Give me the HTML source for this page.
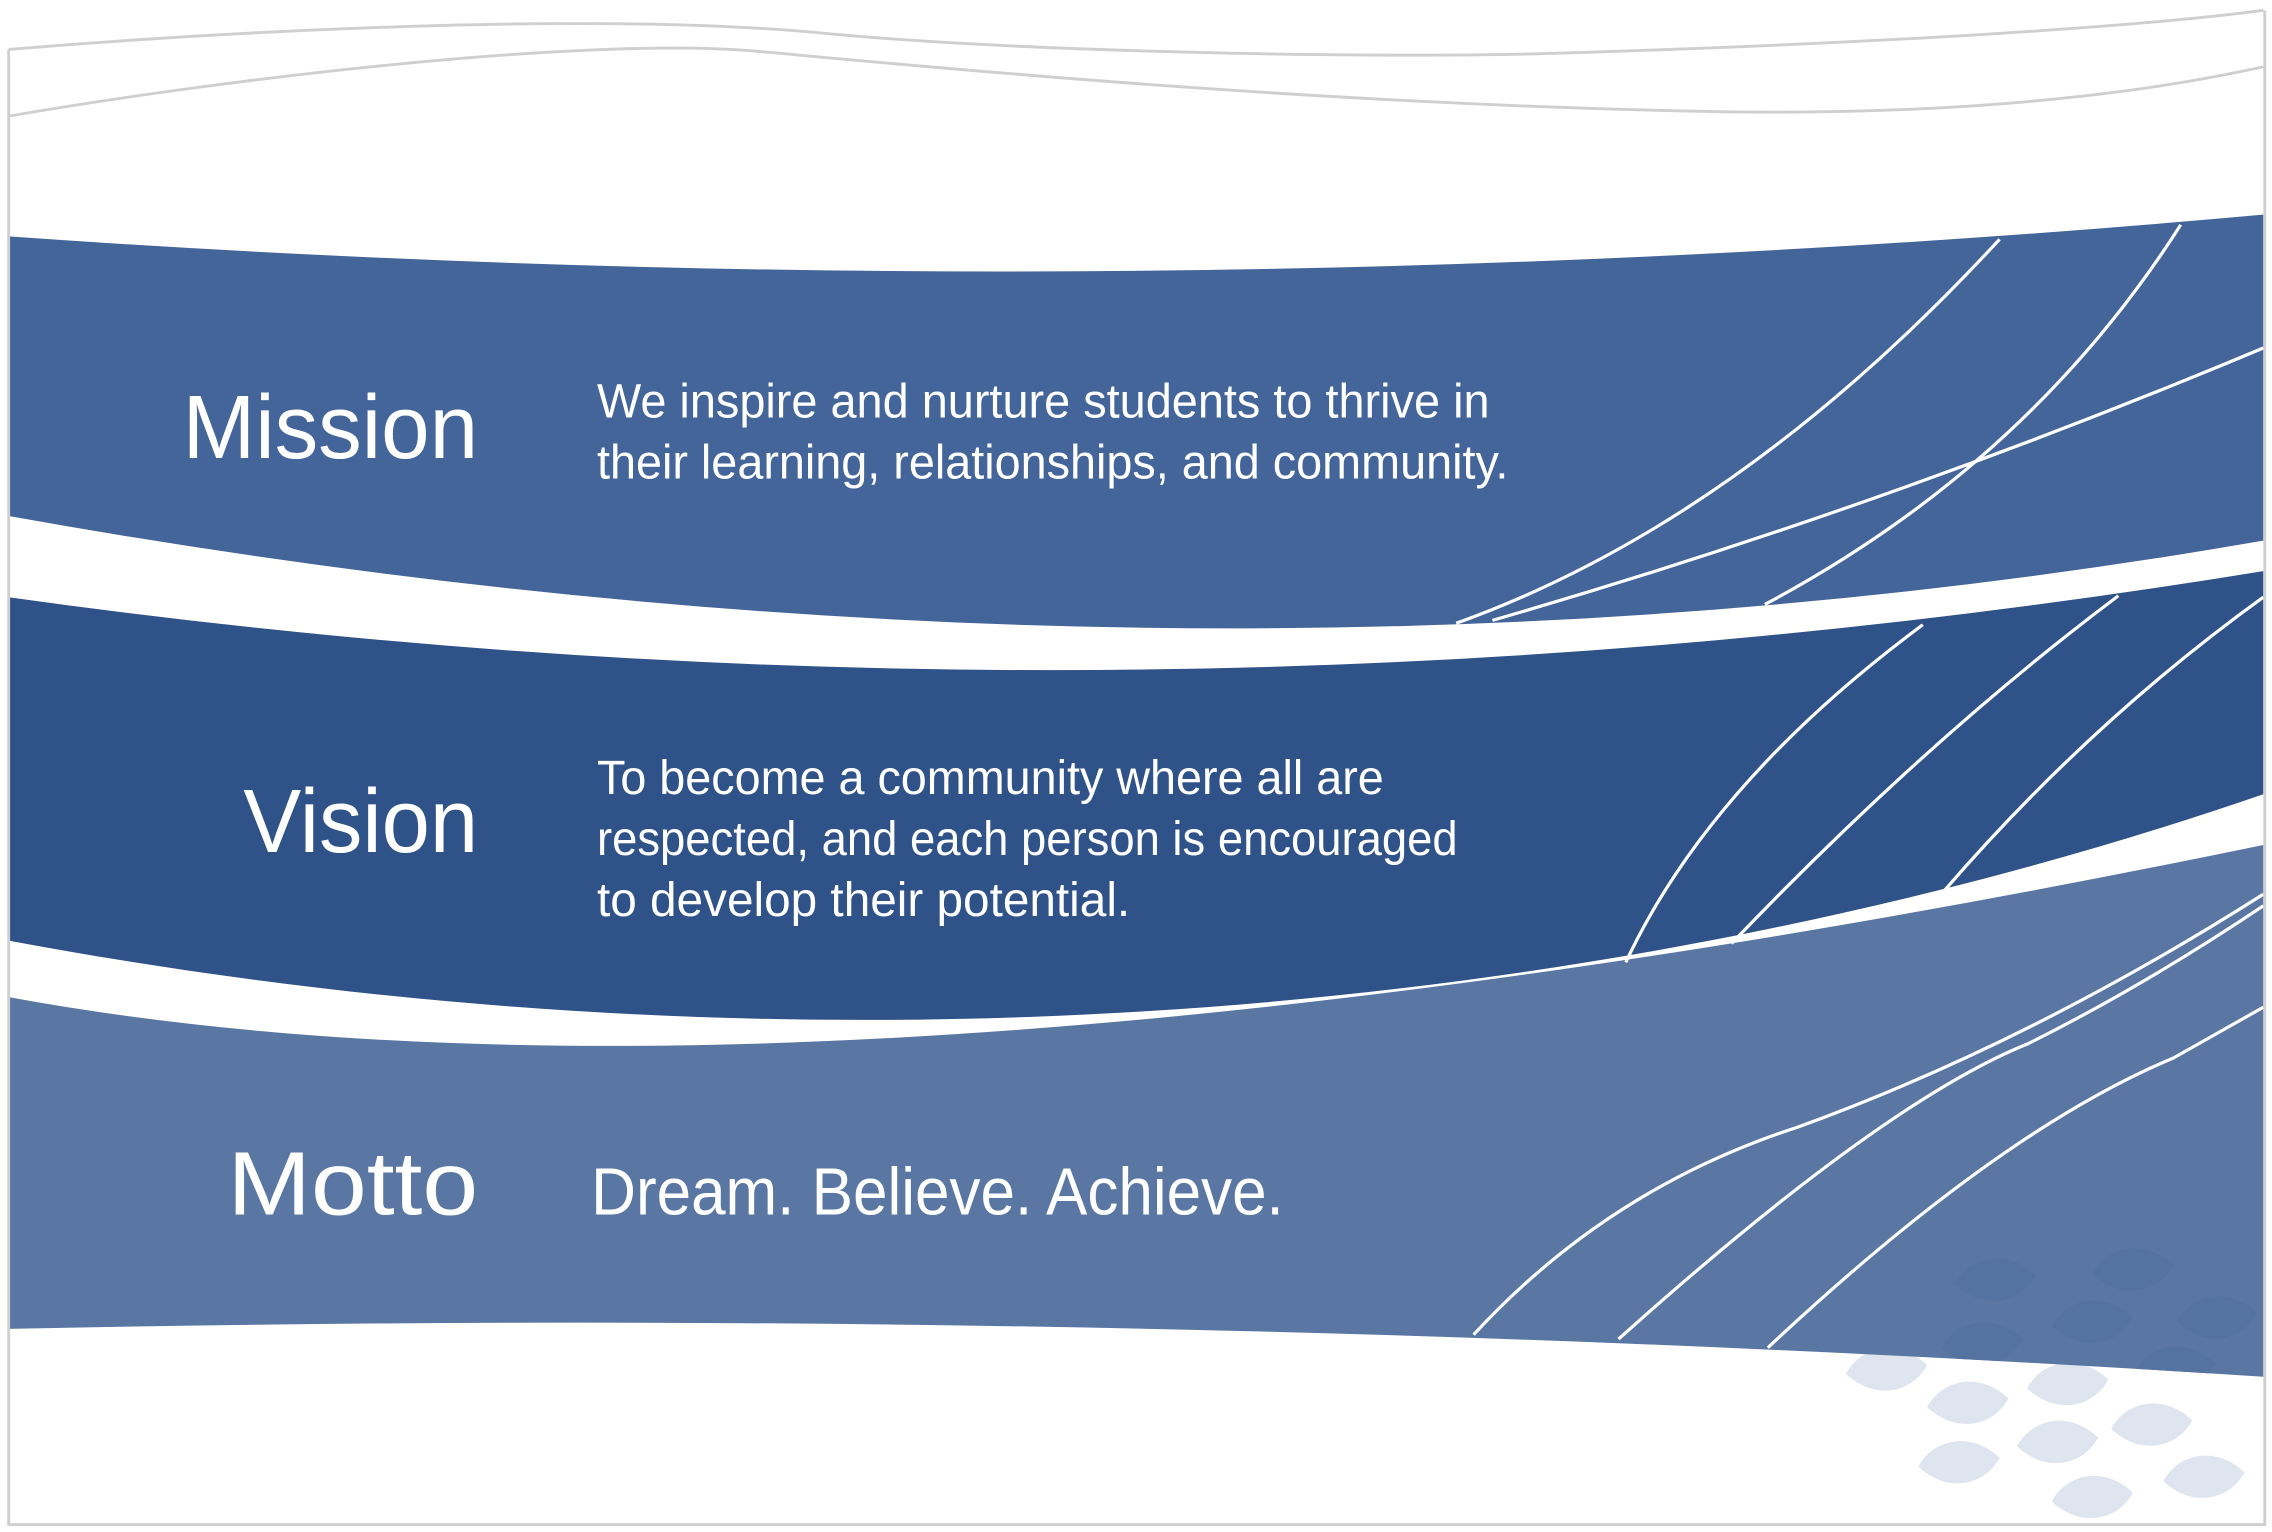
<!DOCTYPE html>
<html><head><meta charset="utf-8"><style>
html,body{margin:0;padding:0;background:#fff;}
svg{display:block;}
text{font-family:"Liberation Sans",sans-serif;fill:#fff;}
</style></head><body>
<svg width="2272" height="1532" viewBox="0 0 1568 1057" xmlns="http://www.w3.org/2000/svg">
<defs>
<path id="lf" d="M-28,3 C-18,-16 8,-22 28,-3 C18,16 -8,22 -28,3Z"/>
<clipPath id="mc"><path d="M6,688 Q560,790 1562,583 L1562,950 Q784,900 6,917 Z"/></clipPath>
</defs>
<rect width="1568" height="1057" fill="#fff"/>
<!-- light leaves (under band) -->
<g fill="#dfe5ee">
<use href="#lf" transform="translate(1302,945)"/>
<use href="#lf" transform="translate(1358,968)"/>
<use href="#lf" transform="translate(1427,955)"/>
<use href="#lf" transform="translate(1485,983)"/>
<use href="#lf" transform="translate(1420,995)"/>
<use href="#lf" transform="translate(1352,1009)"/>
<use href="#lf" transform="translate(1521,1019)"/>
<use href="#lf" transform="translate(1444,1033)"/>
</g>
<!-- bands -->
<path d="M6,163 Q784,218 1562,148 L1562,373 Q820,502 6,356 Z" fill="#44659a"/>
<path d="M6,412 Q784,521 1562,394 L1562,548 C1150,690 600,760 6,649 Z" fill="#2f5288"/>
<path d="M6,688 Q560,790 1562,583 L1562,950 Q784,900 6,917 Z" fill="#5a77a3"/>
<!-- dark leaves -->
<g fill="#5573a1" clip-path="url(#mc)">
<use href="#lf" transform="translate(1377,883)"/>
<use href="#lf" transform="translate(1472,876)"/>
<use href="#lf" transform="translate(1444,912)"/>
<use href="#lf" transform="translate(1530,909)"/>
<use href="#lf" transform="translate(1368,927)"/>
<use href="#lf" transform="translate(1501,944)"/>
</g>
<!-- white lines -->
<g fill="none" stroke="#fff" stroke-width="2.2">
<path d="M1005,430 Q1200,360 1380,165"/>
<path d="M1030,428 Q1300,350 1562,240"/>
<path d="M1218,417 Q1400,320 1505,155"/>
<path d="M1122,664 Q1180,540 1327,431"/>
<path d="M1195,651 Q1330,510 1462,411"/>
<path d="M1338,619 Q1440,500 1562,412"/>
<path d="M1017,921 Q1110,820 1240,778 Q1400,720 1562,617"/>
<path d="M1117,924 Q1300,760 1400,720 Q1480,680 1562,625"/>
<path d="M1220,930 Q1380,780 1500,730 L1562,695"/>
</g>
<!-- grey frame -->
<g fill="none" stroke="#cfcfcf" stroke-width="2">
<path d="M6,34 C150,22 400,8 560,22 C700,36 950,40 1060,37 C1300,30 1480,18 1562,7"/>
<path d="M6,80 C150,55 400,25 520,35 C620,44 900,72 1190,77 C1400,80 1520,55 1562,46"/>
<path d="M6,34 L6,1052 L1563,1052 L1563,7"/>
</g>
<!-- text -->
<text x="330" y="316" font-size="62" text-anchor="end" textLength="204" lengthAdjust="spacingAndGlyphs">Mission</text>
<text x="330" y="588" font-size="62" text-anchor="end" textLength="162" lengthAdjust="spacingAndGlyphs">Vision</text>
<text x="330" y="838" font-size="62" text-anchor="end" textLength="173" lengthAdjust="spacingAndGlyphs">Motto</text>
<g font-size="33">
<text x="412" y="288" textLength="616" lengthAdjust="spacingAndGlyphs">We inspire and nurture students to thrive in</text>
<text x="412" y="330" textLength="629" lengthAdjust="spacingAndGlyphs">their learning, relationships, and community.</text>
<text x="412" y="548" textLength="543" lengthAdjust="spacingAndGlyphs">To become a community where all are</text>
<text x="412" y="590" textLength="594" lengthAdjust="spacingAndGlyphs">respected, and each person is encouraged</text>
<text x="412" y="632" textLength="368" lengthAdjust="spacingAndGlyphs">to develop their potential.</text>
</g>
<text x="408" y="838" font-size="46" textLength="478" lengthAdjust="spacingAndGlyphs">Dream. Believe. Achieve.</text>
</svg>
</body></html>
